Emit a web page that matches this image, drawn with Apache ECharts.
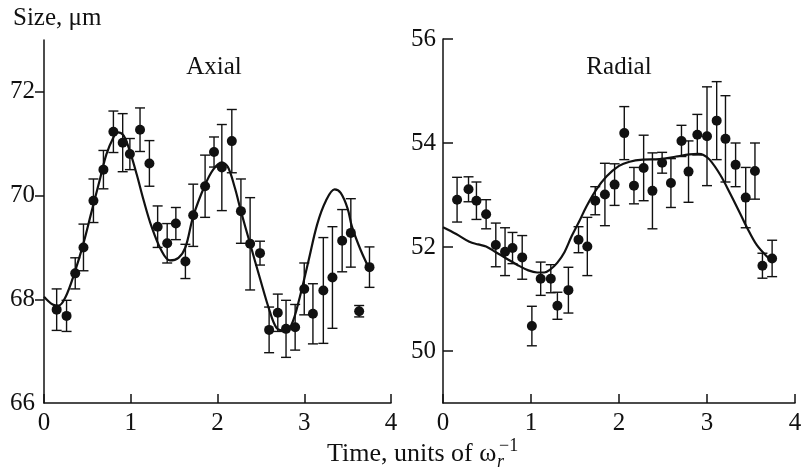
<!DOCTYPE html>
<html>
<head>
<meta charset="utf-8">
<script src="https://cdn.jsdelivr.net/npm/echarts@6/dist/echarts.min.js"></script>
<style>
html,body{margin:0;padding:0;background:#fff;}
#chart{width:802px;height:470px;}
</style>
</head>
<body>
<div id="chart"></div>
<script>
// ---- Axial panel data ----
const axialT = [0.146,0.26,0.36,0.455,0.57,0.685,0.80,0.907,0.99,1.107,1.215,1.31,1.42,1.52,1.63,1.72,1.857,1.96,2.05,2.165,2.27,2.376,2.49,2.595,2.695,2.79,2.895,3.00,3.10,3.22,3.325,3.437,3.537,3.633,3.752];
const axialSize = [67.80,67.68,68.50,69.00,69.90,70.50,71.23,71.02,70.80,71.27,70.62,69.40,69.08,69.46,68.73,69.62,70.18,70.84,70.54,71.05,69.70,69.07,68.89,67.41,67.74,67.43,67.46,68.20,67.72,68.17,68.42,69.13,69.28,67.77,68.62];
const axialErr = [0.40,0.30,0.30,0.45,0.42,0.37,0.40,0.56,0.30,0.42,0.44,0.40,0.38,0.31,0.33,0.60,0.60,0.29,0.83,0.61,0.62,0.89,0.23,0.44,0.36,0.55,0.44,0.50,0.58,1.02,0.98,0.60,0.66,0.11,0.39];
const axialFitT = [0,0.10,0.17,0.25,0.35,0.45,0.55,0.65,0.72,0.80,0.85,0.92,1.00,1.07,1.15,1.24,1.35,1.45,1.55,1.63,1.72,1.85,1.95,2.05,2.12,2.20,2.27,2.376,2.49,2.60,2.68,2.76,2.85,2.95,3.05,3.15,3.25,3.35,3.42,3.50,3.55,3.65,3.76];
const axialFit = [68.05,67.90,67.88,68.05,68.50,69.05,69.70,70.35,70.80,71.12,71.22,71.15,70.80,70.40,69.90,69.40,68.95,68.75,68.80,69.00,69.60,70.18,70.50,70.64,70.55,70.15,69.70,69.07,68.40,67.78,67.45,67.40,67.50,68.05,68.75,69.45,69.90,70.12,70.05,69.75,69.40,68.95,68.55];

// ---- Radial panel data ----
const radialT = [0.16,0.29,0.38,0.49,0.60,0.705,0.79,0.90,1.01,1.11,1.225,1.30,1.425,1.54,1.64,1.73,1.84,1.95,2.06,2.17,2.28,2.38,2.49,2.59,2.71,2.79,2.89,3.00,3.11,3.21,3.325,3.44,3.545,3.63,3.74];
const radialSize = [52.91,53.11,52.89,52.63,52.04,51.91,51.98,51.80,50.48,51.39,51.39,50.87,51.17,52.14,52.01,52.89,53.01,53.20,54.19,53.18,53.52,53.08,53.62,53.23,54.04,53.45,54.16,54.13,54.43,54.08,53.58,52.95,53.46,51.64,51.78];
const radialErr = [0.43,0.24,0.36,0.28,0.42,0.46,0.30,0.42,0.38,0.32,0.27,0.26,0.44,0.25,0.56,0.27,0.60,0.40,0.51,0.35,0.63,0.73,0.20,0.47,0.30,0.59,0.39,0.95,0.75,0.83,0.42,0.58,0.54,0.24,0.35];
const radialFitT = [0,0.15,0.30,0.40,0.49,0.60,0.72,0.85,0.97,1.07,1.15,1.22,1.30,1.38,1.46,1.55,1.63,1.74,1.86,2.00,2.12,2.27,2.46,2.65,2.80,2.90,2.96,3.03,3.15,3.26,3.375,3.45,3.565,3.68,3.73];
const radialFit = [52.38,52.25,52.10,52.05,52.01,51.90,51.78,51.65,51.55,51.51,51.51,51.57,51.70,51.90,52.20,52.50,52.78,53.10,53.36,53.56,53.64,53.68,53.69,53.74,53.78,53.79,53.77,53.68,53.39,53.04,52.65,52.39,52.04,51.82,51.76];

// ---- Tick labels ----
const xTicks = [0,1,2,3,4];
const axialYTicks = [66,68,70,72];
const radialYTicks = [50,52,54,56];

const FONT = '"Liberation Serif","Times New Roman",serif';
const INK = '#111';

function zip(a,b){ return a.map((v,i)=>[v,b[i]]); }
function errData(t,v,e){ return t.map((x,i)=>[x, v[i]-e[i], v[i]+e[i]]); }

function errRender(params, api){
  const x = api.value(0), lo = api.value(1), hi = api.value(2);
  const p1 = api.coord([x, hi]), p2 = api.coord([x, lo]);
  const hw = 5;
  const st = {stroke: INK, lineWidth: 1.4, fill: null};
  return {type:'group', children:[
    {type:'line', shape:{x1:p1[0], y1:p1[1], x2:p2[0], y2:p2[1]}, style:st},
    {type:'line', shape:{x1:p1[0]-hw, y1:p1[1], x2:p1[0]+hw, y2:p1[1]}, style:st},
    {type:'line', shape:{x1:p2[0]-hw, y1:p2[1], x2:p2[0]+hw, y2:p2[1]}, style:st}
  ]};
}

const lbl = {fontFamily: FONT, fontSize: 25, color: INK};

function xAxis(gi){
  return {
    type:'value', gridIndex: gi, min:0, max:4, interval:1,
    axisLine:{show:true, onZero:false, lineStyle:{color:INK, width:1.5}},
    axisTick:{show:true, inside:true, length:9, customValues: xTicks, lineStyle:{color:INK, width:1.5}},
    axisLabel:Object.assign({margin:8, customValues: xTicks, showMinLabel:true, showMaxLabel:true, hideOverlap:false}, lbl),
    splitLine:{show:false}
  };
}

const chart = echarts.init(document.getElementById('chart'), null, {renderer:'canvas'});
chart.setOption({
  animation:false,
  backgroundColor:'#fff',
  grid:[
    {left:44, top:40, width:347, height:363, containLabel:false, outerBoundsMode:'none'},
    {left:443, top:39, width:352, height:364, containLabel:false, outerBoundsMode:'none'}
  ],
  xAxis:[xAxis(0), xAxis(1)],
  yAxis:[
    {type:'value', gridIndex:0, min:66, max:73,
     axisLine:{show:true, onZero:false, lineStyle:{color:INK, width:1.5}},
     axisTick:{show:true, inside:false, length:9, customValues: axialYTicks.slice(1), lineStyle:{color:INK, width:1.5}},
     axisLabel:Object.assign({margin:9, customValues: axialYTicks}, lbl),
     splitLine:{show:false}},
    {type:'value', gridIndex:1, min:49, max:56,
     axisLine:{show:true, onZero:false, lineStyle:{color:INK, width:1.5}},
     axisTick:{show:true, inside:true, length:10, customValues: radialYTicks, lineStyle:{color:INK, width:1.5}},
     axisLabel:Object.assign({margin:7, customValues: radialYTicks}, lbl),
     splitLine:{show:false}}
  ],
  series:[
    {type:'line', xAxisIndex:0, yAxisIndex:0, data: zip(axialFitT, axialFit), smooth:0.35,
     showSymbol:false, symbol:'none', lineStyle:{color:INK, width:2.2}, z:2},
    {type:'custom', xAxisIndex:0, yAxisIndex:0, data: errData(axialT, axialSize, axialErr),
     renderItem: errRender, encode:{x:0, y:[1,2]}, z:3},
    {type:'scatter', xAxisIndex:0, yAxisIndex:0, data: zip(axialT, axialSize), symbol:'circle',
     symbolSize:10, itemStyle:{color:INK, opacity:1}, z:4},
    {type:'line', xAxisIndex:1, yAxisIndex:1, data: zip(radialFitT, radialFit), smooth:0.35,
     showSymbol:false, symbol:'none', lineStyle:{color:INK, width:2.2}, z:2},
    {type:'custom', xAxisIndex:1, yAxisIndex:1, data: errData(radialT, radialSize, radialErr),
     renderItem: errRender, encode:{x:0, y:[1,2]}, z:3},
    {type:'scatter', xAxisIndex:1, yAxisIndex:1, data: zip(radialT, radialSize), symbol:'circle',
     symbolSize:10, itemStyle:{color:INK, opacity:1}, z:4}
  ],
  graphic:[
    {type:'text', left:13, top:6, style:{text:'Size, μm', font:'25px '+FONT, fill:INK}},
    {type:'text', x:214, y:67, style:{text:'Axial', font:'25px '+FONT, fill:INK, align:'center', verticalAlign:'middle'}},
    {type:'text', x:619, y:67, style:{text:'Radial', font:'25px '+FONT, fill:INK, align:'center', verticalAlign:'middle'}},
    {type:'text', x:327, y:454, style:{text:'Time, units of ω', font:'26px '+FONT, fill:INK, align:'left', verticalAlign:'middle'}},
    {type:'text', x:497, y:462, style:{text:'r', font:'italic 18px '+FONT, fill:INK, align:'left', verticalAlign:'middle'}},
    {type:'text', x:499, y:446, style:{text:'−1', font:'18px '+FONT, fill:INK, align:'left', verticalAlign:'middle'}}
  ]
});
</script>
</body>
</html>
